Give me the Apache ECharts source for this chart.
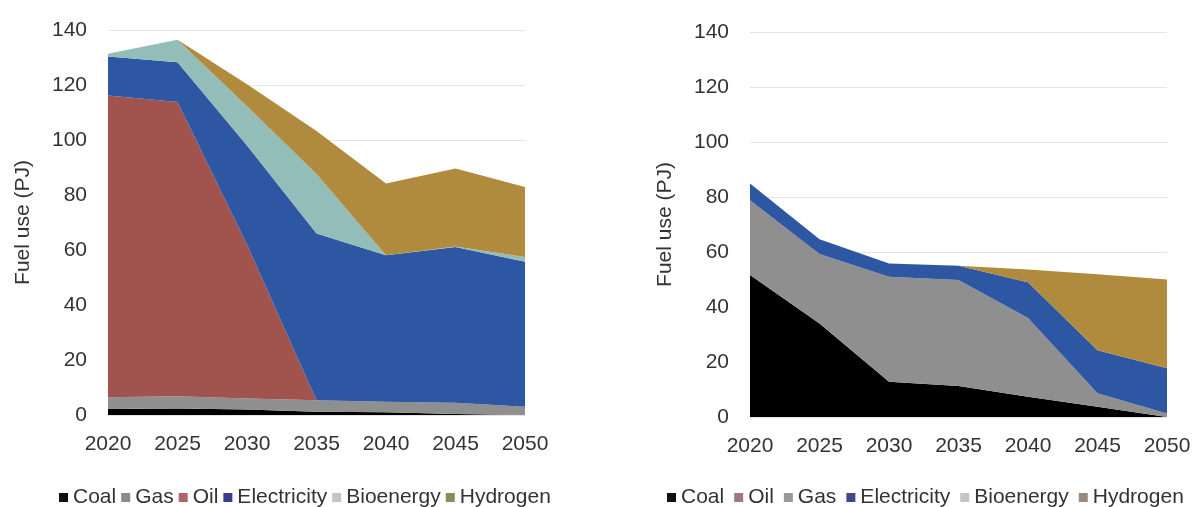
<!DOCTYPE html>
<html>
<head>
<meta charset="utf-8">
<script src="https://cdn.jsdelivr.net/npm/echarts@6/dist/echarts.min.js"></script>
<style>
  html, body { margin: 0; padding: 0; background: #ffffff; }
  #chart { width: 1194px; height: 507px; }
</style>
</head>
<body>
<div id="chart"></div>
<script>
// ---- Data (PJ) ----
const years = ['2020', '2025', '2030', '2035', '2040', '2045', '2050'];

// Left panel (stack order: Coal, Gas, Oil, Electricity, Bioenergy, Hydrogen)
const leftCoal        = [2.2, 2.4, 2.0, 1.2, 1.0, 0.4, 0.0];
const leftGas         = [4.3, 4.4, 4.0, 4.2, 3.8, 4.1, 3.0];
const leftOil         = [109.7, 107.0, 56.0, 0.0, 0.0, 0.0, 0.0];
const leftElectricity = [14.2, 14.5, 36.0, 60.6, 53.3, 56.6, 52.7];
const leftBioenergy   = [1.0, 8.2, 14.3, 21.6, 0.0, 0.2, 1.8];
const leftHydrogen    = [0.0, 0.0, 8.0, 15.7, 26.1, 28.3, 25.4];

// Right panel (stack order: Coal, Oil, Gas, Electricity, Bioenergy, Hydrogen)
const rightCoal        = [51.6, 34.0, 12.8, 11.3, 7.4, 3.7, 0.0];
const rightOil         = [0, 0, 0, 0, 0, 0, 0];
const rightGas         = [27.2, 25.3, 38.2, 38.5, 28.6, 4.9, 1.3];
const rightElectricity = [6.1, 5.3, 4.8, 5.2, 13.0, 15.7, 16.4];
const rightBioenergy   = [0, 0, 0, 0, 0, 0, 0];
const rightHydrogen    = [0.0, 0.0, 0.0, 0.0, 4.6, 27.6, 32.3];

const leftLegendNames  = ['Coal', 'Gas', 'Oil', 'Electricity', 'Bioenergy', 'Hydrogen'];
const rightLegendNames = ['Coal', 'Oil', 'Gas', 'Electricity', 'Bioenergy', 'Hydrogen'];
const yAxisTitle = 'Fuel use (PJ)';

// ---- Styles ----
const FONT = "'Liberation Sans', Arial, Helvetica, sans-serif";
const areaColors = {
  Coal: '#000000',
  Gas: '#8f8f8f',
  Oil: '#a1544d',
  Electricity: '#2d56a3',
  Bioenergy: '#92bdb8',
  Hydrogen: '#b08b3e'
};
const legendSwatchLeft = {
  Coal: '#111111', Gas: '#8a8a8a', Oil: '#b0646a',
  Electricity: '#3c3c8e', Bioenergy: '#c4c4c4', Hydrogen: '#8c8c58'
};
const legendSwatchRight = {
  Coal: '#111111', Oil: '#9c7a80', Gas: '#9a9a9a',
  Electricity: '#46468c', Bioenergy: '#c4c4c4', Hydrogen: '#9a8a80'
};

function makeSeries(name, data, idx) {
  return {
    name: name,
    type: 'line',
    stack: 'total' + idx,
    xAxisIndex: idx,
    yAxisIndex: idx,
    data: data,
    showSymbol: false,
    symbol: 'none',
    lineStyle: { width: 0 },
    areaStyle: { color: areaColors[name], opacity: 1 },
    itemStyle: { color: areaColors[name] },
    emphasis: { disabled: true },
    silent: true,
    z: 2
  };
}

const leftSeriesData = {
  Coal: leftCoal, Gas: leftGas, Oil: leftOil,
  Electricity: leftElectricity, Bioenergy: leftBioenergy, Hydrogen: leftHydrogen
};
const rightSeriesData = {
  Coal: rightCoal, Oil: rightOil, Gas: rightGas,
  Electricity: rightElectricity, Bioenergy: rightBioenergy, Hydrogen: rightHydrogen
};

const series = [];
leftLegendNames.forEach(n => series.push(makeSeries(n, leftSeriesData[n], 0)));
rightLegendNames.forEach(n => series.push(makeSeries(n, rightSeriesData[n], 1)));

function xAxisCfg(idx) {
  return {
    type: 'category',
    gridIndex: idx,
    data: years,
    boundaryGap: false,
    axisLine: { show: false },
    axisTick: { show: false },
    axisLabel: { color: '#333333', fontSize: 21, fontFamily: FONT, margin: 19 },
    splitLine: { show: false }
  };
}
function yAxisCfg(idx) {
  return {
    type: 'value',
    gridIndex: idx,
    min: 0, max: 140, interval: 20,
    name: yAxisTitle,
    nameLocation: 'middle',
    nameRotate: 90,
    nameGap: 74,
    nameTextStyle: { color: '#333333', fontSize: 21, fontFamily: FONT },
    axisLine: { show: false },
    axisTick: { show: false },
    axisLabel: { color: '#333333', fontSize: 21, fontFamily: FONT, margin: 21 },
    splitLine: { show: true, lineStyle: { color: '#e4e4e4', width: 1 } }
  };
}
function legendCfg(names, swatches, left, gap) {
  return {
    left: left,
    top: 482,
    icon: 'rect',
    itemWidth: 9,
    itemHeight: 9,
    itemGap: gap,
    selectedMode: false,
    textStyle: { color: '#333333', fontSize: 21, fontFamily: FONT },
    data: names.map(n => ({ name: n, itemStyle: { color: swatches[n] } }))
  };
}

const chart = echarts.init(document.getElementById('chart'), null, { renderer: 'canvas' });
chart.setOption({
  animation: false,
  backgroundColor: '#ffffff',
  grid: [
    { left: 108, top: 30, width: 417, height: 385 },
    { left: 750, top: 32, width: 417, height: 385 }
  ],
  xAxis: [xAxisCfg(0), xAxisCfg(1)],
  yAxis: [yAxisCfg(0), yAxisCfg(1)],
  legend: [
    legendCfg(leftLegendNames, legendSwatchLeft, 54, 5),
    legendCfg(rightLegendNames, legendSwatchRight, 662, 10)
  ],
  series: series
});
</script>
</body>
</html>
